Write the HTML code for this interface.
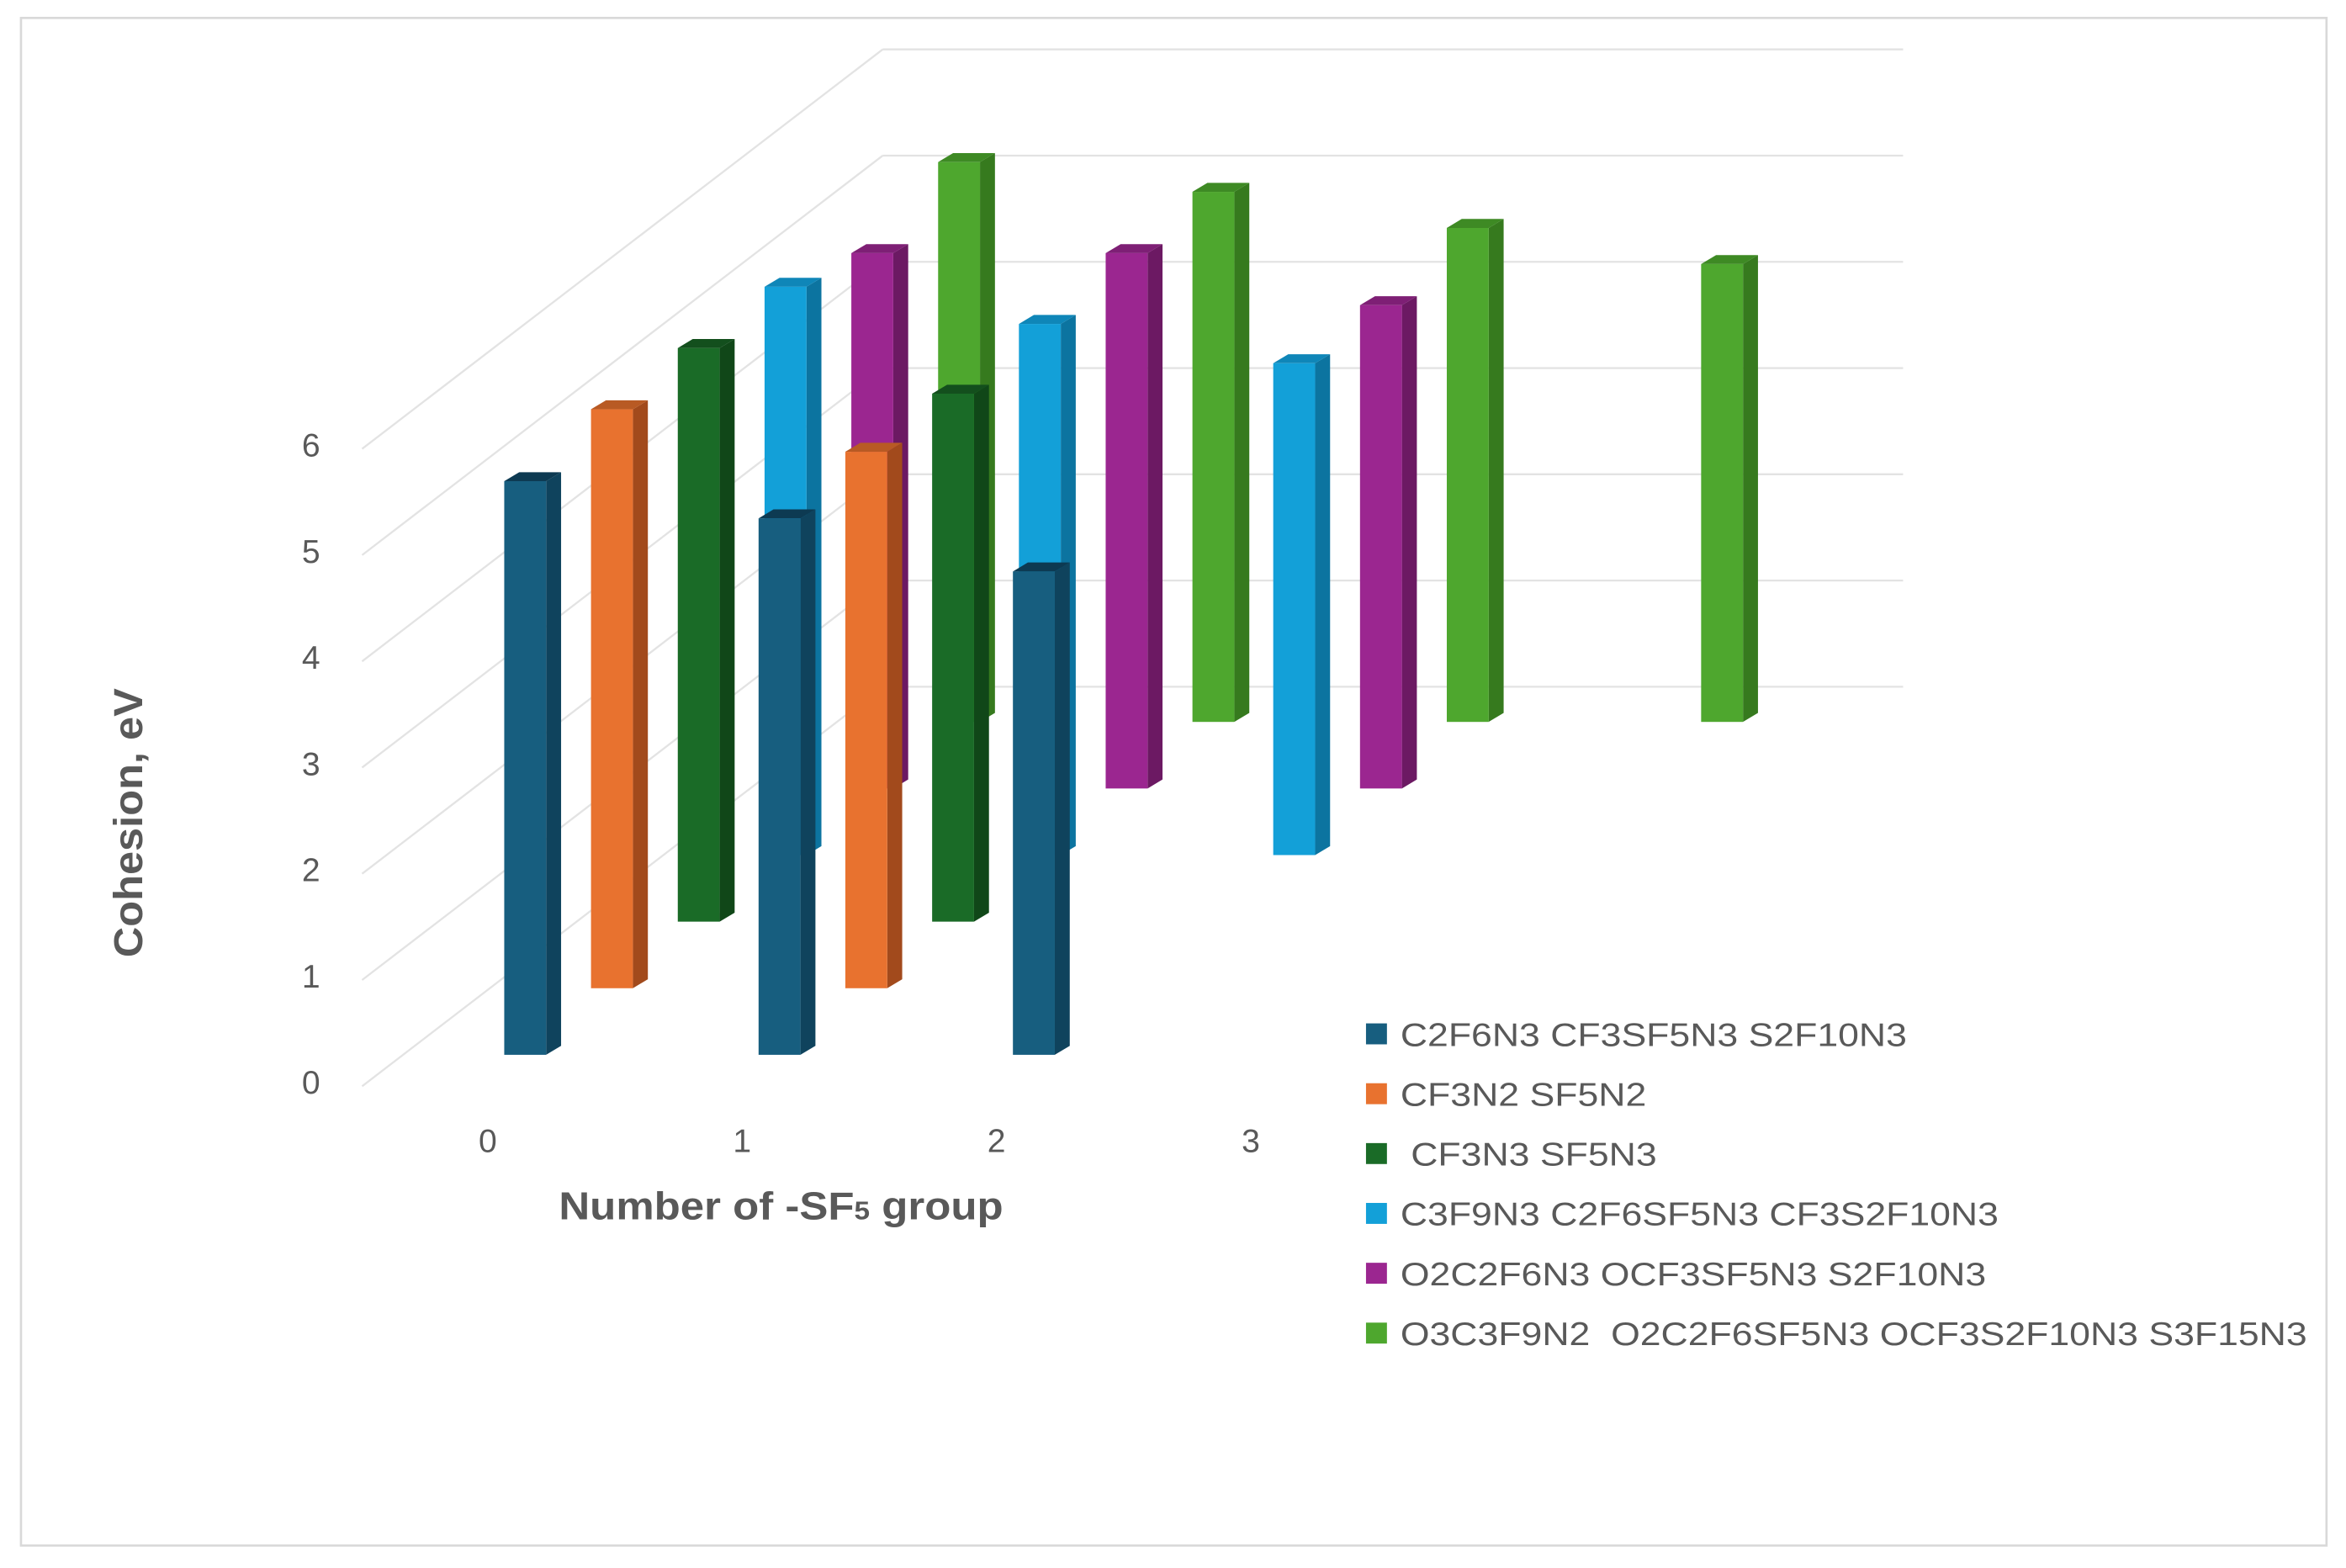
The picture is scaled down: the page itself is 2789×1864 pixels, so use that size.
<!DOCTYPE html>
<html><head><meta charset="utf-8"><style>
html,body{margin:0;padding:0;background:#fff}
svg{display:block}
text{font-family:"Liberation Sans",sans-serif}
</style></head><body>
<svg id="chart" width="2789" height="1864" viewBox="0 0 1568 1048" xmlns="http://www.w3.org/2000/svg">
<rect x="14" y="12" width="1541" height="1021" fill="#fff" stroke="#d9d9d9" stroke-width="1.5"/>
<g id="grid"></g>
<g id="bars"></g>
<g id="labels"></g>
<text id="ytitle" transform="translate(95,550) rotate(-90)" text-anchor="middle" font-size="27" font-weight="bold" fill="#595959" textLength="180" lengthAdjust="spacingAndGlyphs">Cohesion, eV</text>
<text x="522" y="815" text-anchor="middle" font-size="26" font-weight="bold" fill="#595959" textLength="297" lengthAdjust="spacingAndGlyphs">Number of -SF<tspan font-size="17">5</tspan> group</text>
<g id="legend"></g>
</svg>
<script>
const categories = ["0","1","2","3"];
const seriesNames = ["C2F6N3 CF3SF5N3 S2F10N3","CF3N2 SF5N2"," CF3N3 SF5N3","C3F9N3 C2F6SF5N3 CF3S2F10N3","O2C2F6N3 OCF3SF5N3 S2F10N3","O3C3F9N2  O2C2F6SF5N3 OCF3S2F10N3 S3F15N3"];
const s0 = [5.4, 5.05, 4.55, null];
const s1 = [5.45, 5.05, null, null];
const s2 = [5.4, 4.97, null, null];
const s3 = [5.35, 5.0, 4.63, null];
const s4 = [5.04, 5.04, 4.55, null];
const s5 = [5.27, 4.99, 4.65, 4.31];
const yTicks = [0,1,2,3,4,5,6];
const seriesValues = [s0,s1,s2,s3,s4,s5];
const colors = [["#175e7f","#0f435d","#0d3a52"],["#e8722f","#a24a1c","#b85a24"],["#1a6b27","#104718","#134f1d"],["#13a0d8","#0c74a0","#0f86b8"],["#9b2690","#6c1963","#7e1f75"],["#4ea72e","#367a1e","#3e8a24"]];

const NS="http://www.w3.org/2000/svg";
function mk(tag,attrs,parent){const e=document.createElementNS(NS,tag);for(const k in attrs)e.setAttribute(k,attrs[k]);parent.appendChild(e);return e;}
const X0=337, CAT=170, DDX=58, DDY=-44.5, Y0=705, UNIT=71;
function xPos(ci,si){return X0+ci*CAT+si*DDX;}
function yPos(v,si){return Y0+si*DDY-v*UNIT;}
const grid=document.getElementById('grid');
yTicks.forEach(t=>{
  const fy=726-t*UNIT, by=459-t*UNIT;
  const l1=mk('line',{x1:242,y1:fy,x2:590,y2:by,stroke:"#e3e3e3","stroke-width":1.3},grid);
  
  
  const l2=mk('line',{x1:590,y1:by,x2:1272,y2:by,stroke:"#e3e3e3","stroke-width":1.3},grid);
  
  
});
const bars=document.getElementById('bars');
const W=28, SX=10, SY=-6;
for(let si=seriesValues.length-1;si>=0;si--){
  seriesValues[si].forEach((v,ci)=>{
    if(v==null)return;
    const x=xPos(ci,si), top=yPos(v,si), bot=yPos(0,si);
    const g=mk('g',{},bars);
    
    
    mk('polygon',{points:`${x+W},${top} ${x+W+SX},${top+SY} ${x+W+SX},${bot+SY} ${x+W},${bot}`,fill:colors[si][1]},g);
    mk('polygon',{points:`${x},${top} ${x+SX},${top+SY} ${x+W+SX},${top+SY} ${x+W},${top}`,fill:colors[si][2]},g);
    mk('rect',{x:x,y:top,width:W,height:bot-top,fill:colors[si][0]},g);
  });
}
const labels=document.getElementById('labels');
yTicks.forEach(t=>{
  const e=mk('text',{x:214,y:731-t*UNIT,"text-anchor":"end","font-size":22,fill:"#595959"},labels);
  e.textContent=t;
  
  
});
categories.forEach((c,ci)=>{
  const e=mk('text',{x:326+ci*CAT,y:770,"text-anchor":"middle","font-size":22,fill:"#595959"},labels);
  e.textContent=c;
  
  
});
const legend=document.getElementById('legend');
seriesNames.forEach((n,i)=>{
  const g=mk('g',{},legend);
  
  
  mk('rect',{x:913,y:684+i*40,width:14,height:14,fill:colors[i][0]},g);
  const t=mk('text',{x:936,y:699+i*40,"font-size":22,fill:"#595959"},g);
  t.style.whiteSpace="pre";
  t.textContent=n;
  const len=t.getComputedTextLength();
  if(len>0){t.setAttribute('textLength',(len*1.14).toFixed(1));t.setAttribute('lengthAdjust','spacingAndGlyphs');}
});
</script>
</body></html>
